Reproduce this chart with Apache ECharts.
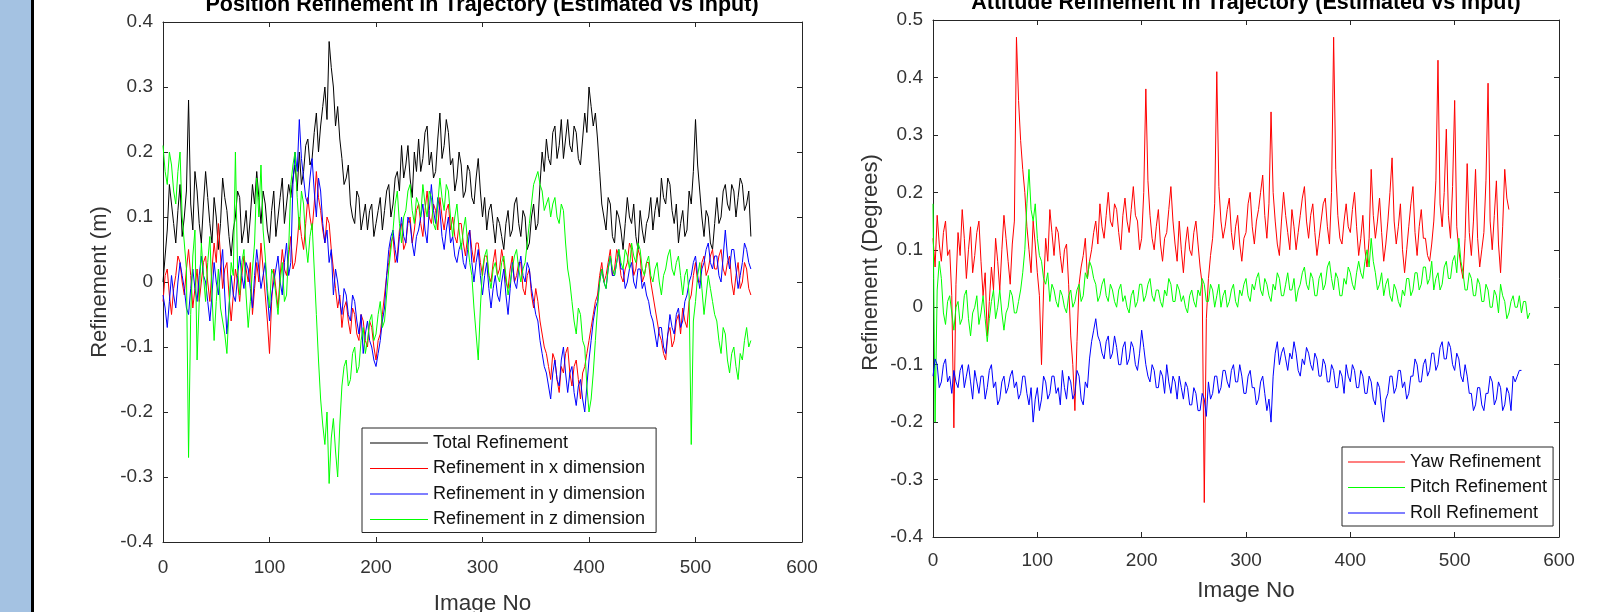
<!DOCTYPE html>
<html><head><meta charset="utf-8">
<script src="https://cdn.jsdelivr.net/npm/echarts@6/dist/echarts.min.js"></script>
<style>html,body{margin:0;padding:0;background:#fff}#c{width:1597px;height:612px}</style>
</head><body><div id="c"></div>
<script>
// ---------- DATA ----------
const posImageNo = [
0,2,4,6,8,10,12,14,16,18,20,22,24,26,28,30,32,34,36,38,
40,42,44,46,48,50,52,54,56,58,60,62,64,66,68,70,72,74,76,78,
80,82,84,86,88,90,92,94,96,98,100,102,104,106,108,110,112,114,116,118,
120,122,124,126,128,130,132,134,136,138,140,142,144,146,148,150,152,154,156,158,
160,162,164,166,168,170,172,174,176,178,180,182,184,186,188,190,192,194,196,198,
200,202,204,206,208,210,212,214,216,218,220,222,224,226,228,230,232,234,236,238,
240,242,244,246,248,250,252,254,256,258,260,262,264,266,268,270,272,274,276,278,
280,282,284,286,288,290,292,294,296,298,300,302,304,306,308,310,312,314,316,318,
320,322,324,326,328,330,332,334,336,338,340,342,344,346,348,350,352,354,356,358,
360,362,364,366,368,370,372,374,376,378,380,382,384,386,388,390,392,394,396,398,
400,402,404,406,408,410,412,414,416,418,420,422,424,426,428,430,432,434,436,438,
440,442,444,446,448,450,452,454,456,458,460,462,464,466,468,470,472,474,476,478,
480,482,484,486,488,490,492,494,496,498,500,502,504,506,508,510,512,514,516,518,
520,522,524,526,528,530,532,534,536,538,540,542,544,546,548,550,552];
const attImageNo = posImageNo.concat([554,556,558,560,562,564,566,568,570,572]);

const posTotal = [
0.00,0.04,0.08,0.15,0.12,0.09,0.06,0.11,0.15,0.07,0.10,0.14,0.28,0.12,0.08,0.17,0.14,0.09,0.06,0.12,
0.17,0.13,0.09,0.06,0.13,0.10,0.05,0.09,0.16,0.13,0.11,0.07,0.04,0.08,0.10,0.14,0.13,0.06,0.08,0.11,
0.06,0.10,0.15,0.12,0.17,0.13,0.09,0.14,0.12,0.08,0.06,0.11,0.14,0.07,0.10,0.13,0.16,0.09,0.12,0.15,
0.13,0.16,0.18,0.14,0.20,0.15,0.17,0.21,0.22,0.18,0.19,0.23,0.26,0.20,0.24,0.27,0.30,0.25,0.37,0.33,
0.30,0.24,0.27,0.22,0.19,0.15,0.16,0.18,0.12,0.10,0.09,0.14,0.13,0.08,0.10,0.12,0.08,0.11,0.12,0.07,
0.09,0.11,0.13,0.08,0.11,0.14,0.15,0.10,0.12,0.16,0.17,0.14,0.21,0.16,0.18,0.21,0.16,0.13,0.20,0.17,
0.22,0.17,0.19,0.23,0.24,0.18,0.20,0.16,0.17,0.22,0.26,0.19,0.21,0.25,0.23,0.18,0.19,0.14,0.16,0.20,
0.18,0.13,0.14,0.18,0.17,0.13,0.12,0.16,0.19,0.14,0.10,0.13,0.08,0.11,0.12,0.09,0.06,0.10,0.09,0.07,
0.05,0.09,0.11,0.07,0.08,0.12,0.13,0.09,0.07,0.11,0.10,0.05,0.06,0.10,0.12,0.08,0.09,0.15,0.20,0.17,
0.22,0.19,0.18,0.23,0.24,0.19,0.21,0.25,0.19,0.22,0.25,0.21,0.20,0.24,0.23,0.19,0.18,0.22,0.26,0.23,
0.30,0.27,0.24,0.26,0.22,0.17,0.12,0.10,0.08,0.13,0.12,0.07,0.06,0.11,0.10,0.08,0.05,0.09,0.13,0.10,
0.09,0.12,0.07,0.05,0.11,0.08,0.06,0.09,0.10,0.13,0.08,0.11,0.13,0.10,0.16,0.13,0.12,0.16,0.15,0.11,
0.09,0.12,0.06,0.09,0.11,0.07,0.08,0.14,0.12,0.17,0.25,0.18,0.14,0.10,0.07,0.11,0.10,0.06,0.05,0.09,
0.13,0.09,0.10,0.14,0.15,0.12,0.11,0.15,0.14,0.10,0.13,0.16,0.15,0.11,0.12,0.14,0.07];
const posX = [
-0.03,0.01,0.02,-0.02,-0.05,-0.01,0.01,0.04,0.03,0.00,-0.02,0.02,0.05,0.01,-0.04,-0.01,0.02,-0.03,0.00,0.03,
0.04,0.00,-0.03,0.02,0.06,0.03,0.09,0.04,-0.01,0.02,0.03,-0.02,-0.06,-0.02,0.02,0.00,-0.03,0.01,0.04,0.02,
0.00,0.03,-0.05,-0.01,0.03,0.00,0.06,0.02,-0.02,-0.06,-0.11,-0.03,0.02,-0.01,-0.04,0.01,0.05,0.02,0.01,0.04,
0.07,0.02,0.03,0.06,0.10,0.07,0.05,0.09,0.13,0.10,0.08,0.12,0.17,0.13,0.11,0.08,0.06,0.10,0.09,0.05,
0.02,-0.01,-0.04,-0.02,-0.07,-0.04,-0.03,-0.06,-0.08,-0.04,-0.05,-0.08,-0.09,-0.05,-0.06,-0.09,-0.10,-0.06,-0.07,-0.10,
-0.12,-0.09,-0.08,-0.05,-0.02,0.01,0.03,0.06,0.07,0.03,0.04,0.08,0.09,0.05,0.06,0.09,0.10,0.06,0.08,0.11,
0.12,0.09,0.07,0.11,0.14,0.10,0.09,0.12,0.11,0.08,0.13,0.10,0.08,0.11,0.12,0.08,0.10,0.07,0.06,0.09,
0.09,0.06,0.04,0.07,0.08,0.05,0.03,0.06,0.06,0.03,0.01,0.04,0.04,0.01,0.00,0.03,0.05,0.01,0.02,0.05,
0.03,0.00,-0.01,0.02,0.04,0.00,0.01,0.03,0.03,-0.01,-0.02,0.01,0.02,-0.02,-0.04,-0.01,-0.03,-0.06,-0.08,-0.10,
-0.11,-0.13,-0.15,-0.11,-0.12,-0.15,-0.17,-0.13,-0.14,-0.11,-0.10,-0.14,-0.16,-0.13,-0.12,-0.15,-0.18,-0.14,-0.13,-0.11,
-0.09,-0.07,-0.05,-0.03,-0.02,0.01,0.03,0.00,0.01,0.03,0.05,0.01,0.02,0.05,0.04,0.01,0.00,0.02,0.03,0.06,
0.05,0.01,0.02,0.05,0.04,0.00,0.01,0.03,0.03,0.00,-0.02,-0.04,-0.06,-0.08,-0.09,-0.11,-0.12,-0.08,-0.07,-0.10,
-0.09,-0.06,-0.05,-0.08,-0.04,-0.06,-0.07,-0.03,-0.02,0.01,0.03,0.00,0.00,0.03,0.04,0.01,0.02,0.04,0.05,0.02,
0.02,0.04,0.05,0.02,0.01,0.03,0.04,0.00,-0.02,0.01,0.03,-0.01,0.00,0.03,0.02,-0.01,-0.02];
const posY = [
-0.02,-0.04,-0.07,-0.03,0.01,-0.02,-0.04,0.00,0.03,0.01,-0.01,-0.04,-0.05,-0.01,0.02,-0.01,-0.03,0.01,0.04,0.01,
0.00,-0.03,-0.06,-0.02,0.03,0.00,-0.02,0.02,0.05,-0.02,-0.08,-0.04,0.01,-0.02,-0.03,0.01,0.04,0.01,-0.01,0.03,
0.02,-0.01,-0.04,0.01,0.05,0.02,-0.01,0.01,0.03,-0.02,-0.06,-0.02,0.00,0.02,0.04,0.00,-0.02,0.03,0.06,0.01,
0.03,0.15,0.20,0.17,0.25,0.19,0.16,0.13,0.12,0.16,0.19,0.14,0.10,0.16,0.14,0.09,0.06,0.08,0.03,0.05,
-0.02,0.02,0.00,-0.03,-0.05,-0.01,-0.02,-0.05,-0.06,-0.02,-0.03,-0.06,-0.08,-0.05,-0.11,-0.08,-0.06,-0.09,-0.10,-0.12,
-0.13,-0.11,-0.09,-0.06,-0.04,0.01,0.05,0.07,0.08,0.05,0.03,0.07,0.10,0.07,0.06,0.10,0.09,0.06,0.04,0.07,
0.08,0.10,0.12,0.08,0.06,0.11,0.15,0.11,0.09,0.13,0.11,0.07,0.05,0.08,0.10,0.06,0.07,0.04,0.03,0.05,
0.06,0.03,0.02,0.05,0.08,0.03,0.00,0.03,0.05,0.01,-0.02,0.01,0.03,-0.01,-0.04,-0.01,0.01,-0.02,-0.03,0.00,
0.02,-0.02,-0.05,-0.01,0.03,0.00,-0.01,0.02,0.04,0.01,0.00,0.03,0.02,-0.01,-0.03,-0.05,-0.06,-0.09,-0.11,-0.13,
-0.14,-0.16,-0.18,-0.14,-0.12,-0.15,-0.16,-0.12,-0.10,-0.14,-0.17,-0.14,-0.13,-0.17,-0.19,-0.16,-0.15,-0.18,-0.20,-0.16,
-0.12,-0.09,-0.06,-0.04,-0.03,0.00,0.02,0.00,-0.01,0.02,0.04,0.01,0.01,0.03,0.05,0.02,0.02,-0.01,0.00,0.02,
0.03,0.00,-0.01,0.02,0.02,-0.01,0.00,-0.02,-0.03,-0.05,-0.06,-0.08,-0.10,-0.07,-0.07,-0.10,-0.11,-0.08,-0.05,-0.07,
-0.08,-0.05,-0.04,-0.07,-0.06,-0.03,-0.02,0.00,0.01,0.03,0.04,0.01,-0.01,0.02,0.03,0.05,0.06,0.03,0.02,0.04,
0.04,0.01,0.00,0.04,0.08,0.04,0.02,0.05,0.05,0.02,-0.01,0.01,0.03,0.06,0.05,0.03,0.02];
const posZ = [
0.21,0.17,0.15,0.20,0.18,0.14,0.12,0.17,0.20,0.10,0.06,0.02,-0.27,-0.05,0.04,0.08,-0.12,-0.03,0.06,0.01,
-0.03,0.03,0.07,-0.02,-0.09,-0.03,0.02,-0.04,-0.06,-0.08,-0.11,-0.04,0.03,0.01,0.20,0.02,-0.02,0.03,0.05,-0.02,
-0.07,-0.03,0.02,0.06,0.16,0.10,0.18,0.08,0.04,-0.01,-0.04,0.02,0.01,-0.02,-0.05,0.00,0.03,-0.03,-0.02,0.05,
0.15,0.18,0.20,0.13,0.08,0.14,0.12,0.06,0.03,0.07,0.09,0.02,-0.05,-0.12,-0.18,-0.22,-0.25,-0.20,-0.31,-0.24,
-0.21,-0.26,-0.30,-0.22,-0.16,-0.13,-0.12,-0.16,-0.15,-0.11,-0.10,-0.14,-0.13,-0.09,-0.07,-0.11,-0.09,-0.06,-0.05,-0.09,
-0.08,-0.05,-0.03,-0.07,-0.06,-0.02,0.02,0.05,0.08,0.12,0.14,0.09,0.06,0.10,0.11,0.14,0.15,0.11,0.09,0.13,
0.12,0.10,0.15,0.12,0.10,0.14,0.13,0.09,0.08,0.12,0.16,0.13,0.11,0.15,0.14,0.10,0.07,0.10,0.12,0.08,
0.05,0.08,0.10,0.06,0.03,0.01,-0.04,-0.08,-0.12,-0.04,0.02,0.04,0.05,0.01,-0.01,0.02,0.03,0.01,0.00,0.03,
0.04,0.01,-0.02,0.00,0.02,0.04,0.05,0.02,0.00,0.02,0.03,0.06,0.09,0.12,0.15,0.16,0.17,0.15,0.14,0.11,
0.12,0.13,0.10,0.12,0.13,0.10,0.09,0.12,0.11,0.06,0.02,0.00,-0.03,-0.06,-0.08,-0.04,-0.05,-0.09,-0.10,-0.16,
-0.20,-0.18,-0.14,-0.09,-0.04,0.00,0.02,0.00,-0.01,0.02,0.04,0.02,0.01,0.03,0.05,0.03,0.02,0.05,0.04,0.02,
0.06,0.04,0.03,0.06,0.05,0.02,0.01,0.03,0.04,0.01,0.00,0.02,0.03,0.00,-0.02,0.01,0.02,0.04,0.05,0.02,
0.01,0.03,0.04,0.01,-0.02,0.01,0.02,-0.02,-0.25,-0.06,-0.03,0.01,0.03,-0.01,-0.05,-0.02,0.01,-0.01,-0.03,-0.05,
-0.06,-0.09,-0.11,-0.07,-0.08,-0.12,-0.14,-0.11,-0.10,-0.13,-0.15,-0.11,-0.12,-0.09,-0.07,-0.10,-0.09];

const attYaw = [
0.12,0.07,0.16,0.11,0.08,0.13,0.15,0.09,0.10,0.02,-0.21,0.04,0.13,0.09,0.17,0.12,0.05,0.10,0.14,0.06,
0.09,0.13,0.15,0.08,0.02,0.06,-0.05,0.01,0.07,0.03,0.12,0.08,0.03,0.10,0.16,0.12,0.08,0.04,0.11,0.15,
0.47,0.36,0.29,0.24,0.20,0.14,0.10,0.06,0.15,0.11,0.06,0.02,-0.10,0.03,0.12,0.08,0.17,0.13,0.09,0.14,
0.13,0.09,0.06,0.10,0.11,0.04,-0.05,-0.10,-0.18,-0.06,0.04,0.07,0.09,0.12,0.05,0.08,0.10,0.13,0.15,0.11,
0.18,0.14,0.12,0.16,0.20,0.15,0.14,0.18,0.17,0.13,0.10,0.16,0.19,0.15,0.13,0.17,0.21,0.16,0.15,0.10,
0.12,0.20,0.38,0.22,0.16,0.12,0.10,0.14,0.17,0.11,0.08,0.12,0.13,0.17,0.21,0.15,0.11,0.08,0.15,0.10,
0.06,0.11,0.14,0.10,0.09,0.13,0.15,0.11,0.07,0.04,-0.34,-0.02,0.05,0.09,0.12,0.18,0.41,0.21,0.15,0.12,
0.14,0.17,0.19,0.13,0.10,0.14,0.16,0.11,0.08,0.12,0.13,0.18,0.20,0.14,0.11,0.15,0.17,0.20,0.23,0.16,
0.12,0.18,0.34,0.20,0.15,0.11,0.09,0.15,0.20,0.16,0.13,0.10,0.17,0.14,0.10,0.13,0.16,0.19,0.21,0.15,
0.12,0.16,0.18,0.13,0.09,0.12,0.15,0.18,0.19,0.14,0.11,0.20,0.47,0.24,0.16,0.12,0.11,0.15,0.18,0.14,
0.13,0.17,0.20,0.14,0.09,0.12,0.16,0.10,0.07,0.12,0.24,0.16,0.12,0.15,0.19,0.13,0.08,0.11,0.15,0.20,
0.26,0.15,0.11,0.14,0.18,0.10,0.06,0.10,0.14,0.18,0.21,0.13,0.09,0.14,0.17,0.12,0.12,0.09,0.08,0.11,
0.15,0.22,0.43,0.18,0.14,0.20,0.31,0.16,0.12,0.21,0.36,0.14,0.10,0.07,0.05,0.12,0.25,0.13,0.09,0.15,
0.24,0.12,0.07,0.10,0.13,0.22,0.39,0.15,0.10,0.16,0.22,0.11,0.06,0.14,0.24,0.19,0.17];
const attPitch = [
0.18,-0.20,0.03,0.08,0.05,-0.01,-0.03,0.01,0.02,-0.01,-0.04,0.00,0.01,-0.03,-0.02,0.02,0.03,-0.02,-0.05,-0.01,
0.00,0.02,-0.03,-0.01,0.02,-0.02,-0.06,-0.02,0.01,0.03,-0.02,0.00,0.03,-0.01,-0.04,-0.01,0.00,0.03,0.02,-0.01,
-0.01,0.01,0.03,0.06,0.10,0.18,0.24,0.17,0.15,0.18,0.12,0.09,0.08,0.05,0.04,0.06,0.01,0.04,0.03,0.01,
0.00,0.03,0.02,0.00,-0.01,0.02,0.03,0.00,0.01,0.03,0.04,0.01,0.02,0.06,0.05,0.08,0.07,0.05,0.04,0.01,
0.02,0.04,0.05,0.02,0.01,0.04,0.03,0.01,0.00,0.03,0.04,0.01,0.02,0.00,-0.01,0.02,0.03,0.00,0.01,0.04,
0.04,0.01,0.02,0.04,0.05,0.02,0.01,0.03,0.03,0.01,0.00,0.03,0.02,0.05,0.04,0.01,0.01,0.04,0.03,0.01,
0.02,0.00,-0.01,0.02,0.03,0.01,0.00,0.03,0.02,0.05,0.04,0.01,0.01,0.04,0.03,0.00,0.02,0.04,0.00,0.02,
0.03,0.00,0.01,0.03,0.04,0.01,0.00,0.03,0.02,0.04,0.05,0.02,0.01,0.04,0.03,0.05,0.06,0.03,0.02,0.05,
0.04,0.02,0.01,0.04,0.03,0.06,0.05,0.02,0.02,0.04,0.06,0.03,0.03,0.05,0.01,0.03,0.04,0.06,0.07,0.04,
0.03,0.06,0.05,0.02,0.02,0.05,0.06,0.03,0.04,0.07,0.08,0.05,0.03,0.06,0.05,0.02,0.02,0.05,0.04,0.07,
0.06,0.04,0.03,0.06,0.08,0.06,0.05,0.08,0.10,0.07,0.12,0.08,0.06,0.03,0.04,0.06,0.02,0.04,0.05,0.02,
0.01,0.04,0.03,0.01,0.00,0.03,0.02,0.05,0.05,0.02,0.03,0.06,0.06,0.03,0.04,0.07,0.07,0.04,0.05,0.08,
0.03,0.05,0.06,0.03,0.04,0.07,0.08,0.05,0.05,0.08,0.09,0.06,0.12,0.08,0.06,0.03,0.03,0.06,0.05,0.02,
0.02,0.05,0.04,0.01,0.01,0.04,0.03,0.00,0.00,0.03,0.02,-0.01,0.04,0.02,0.01,-0.02,-0.01,0.01,0.02,0.00,
0.00,0.02,-0.01,0.01,0.01,-0.02,-0.01];
const attRoll = [
-0.12,-0.09,-0.10,-0.14,-0.13,-0.10,-0.09,-0.13,-0.12,-0.15,-0.11,-0.13,-0.14,-0.11,-0.10,-0.14,-0.12,-0.10,-0.13,-0.16,
-0.11,-0.13,-0.15,-0.12,-0.12,-0.16,-0.14,-0.11,-0.10,-0.14,-0.13,-0.17,-0.16,-0.13,-0.12,-0.15,-0.14,-0.12,-0.11,-0.14,
-0.13,-0.16,-0.15,-0.12,-0.12,-0.15,-0.17,-0.14,-0.20,-0.16,-0.14,-0.18,-0.16,-0.12,-0.13,-0.16,-0.15,-0.12,-0.12,-0.15,
-0.14,-0.17,-0.11,-0.14,-0.16,-0.12,-0.13,-0.16,-0.15,-0.11,-0.12,-0.16,-0.17,-0.13,-0.14,-0.09,-0.06,-0.04,-0.02,-0.05,
-0.06,-0.08,-0.09,-0.06,-0.05,-0.09,-0.08,-0.05,-0.07,-0.10,-0.10,-0.07,-0.06,-0.10,-0.09,-0.06,-0.07,-0.10,-0.11,-0.08,
-0.04,-0.07,-0.10,-0.12,-0.13,-0.10,-0.11,-0.14,-0.14,-0.11,-0.12,-0.15,-0.10,-0.13,-0.15,-0.12,-0.13,-0.16,-0.12,-0.14,
-0.16,-0.13,-0.14,-0.17,-0.17,-0.14,-0.15,-0.18,-0.18,-0.15,-0.16,-0.19,-0.13,-0.16,-0.15,-0.12,-0.12,-0.15,-0.14,-0.11,
-0.11,-0.13,-0.14,-0.11,-0.10,-0.13,-0.13,-0.10,-0.12,-0.15,-0.15,-0.12,-0.11,-0.14,-0.14,-0.17,-0.16,-0.13,-0.12,-0.15,
-0.18,-0.16,-0.20,-0.12,-0.08,-0.06,-0.10,-0.08,-0.07,-0.09,-0.11,-0.08,-0.09,-0.06,-0.08,-0.11,-0.12,-0.09,-0.10,-0.07,
-0.08,-0.10,-0.11,-0.08,-0.09,-0.12,-0.12,-0.09,-0.10,-0.13,-0.13,-0.10,-0.11,-0.14,-0.14,-0.11,-0.12,-0.15,-0.10,-0.12,
-0.13,-0.10,-0.11,-0.14,-0.14,-0.11,-0.12,-0.15,-0.15,-0.12,-0.13,-0.16,-0.17,-0.13,-0.14,-0.18,-0.20,-0.16,-0.15,-0.12,
-0.12,-0.15,-0.14,-0.11,-0.11,-0.14,-0.13,-0.16,-0.15,-0.12,-0.12,-0.09,-0.10,-0.13,-0.13,-0.10,-0.09,-0.12,-0.11,-0.08,
-0.08,-0.11,-0.10,-0.07,-0.06,-0.09,-0.09,-0.06,-0.07,-0.10,-0.11,-0.08,-0.09,-0.12,-0.13,-0.10,-0.12,-0.15,-0.15,-0.18,
-0.17,-0.14,-0.14,-0.17,-0.18,-0.15,-0.15,-0.12,-0.13,-0.17,-0.16,-0.13,-0.14,-0.18,-0.17,-0.14,-0.15,-0.18,-0.12,-0.13,
-0.12,-0.11,-0.11];

const posTitle = 'Position Refinement in Trajectory (Estimated vs Input)';
const attTitle = 'Attitude Refinement in Trajectory (Estimated vs Input)';
const posNames = ['Total Refinement','Refinement in x dimension','Refinement in y dimension','Refinement in z dimension'];
const attNames = ['Yaw Refinement','Pitch Refinement','Roll Refinement'];
const xTicks = {min:0, max:600, interval:100};
const posYTicks = {min:-0.4, max:0.4, interval:0.1};
const attYTicks = {min:-0.4, max:0.5, interval:0.1};

// ---------- CHART ----------
const FONT = "'Liberation Sans', Arial, Helvetica, sans-serif";
const AX = '#262626';
const TXT = '#333333';
function pairs(xs, ys){ return ys.map((v,i)=>[xs[i], v]); }
function fmt(v){ return String(+v.toFixed(1)); }

function xAxes(grid, gap, margin){
  return [
    {type:'value', gridIndex:grid, position:'bottom', min:xTicks.min, max:xTicks.max, interval:xTicks.interval,
     axisLine:{show:true, onZero:false, lineStyle:{color:AX, width:1}},
     axisTick:{show:true, inside:true, length:5, lineStyle:{color:AX}},
     axisLabel:{color:TXT, fontSize:19, fontFamily:FONT, margin:margin},
     splitLine:{show:false},
     name:'Image No', nameLocation:'middle', nameGap:gap,
     nameTextStyle:{color:TXT, fontSize:22.5, fontFamily:FONT}},
    {type:'value', gridIndex:grid, position:'top', min:xTicks.min, max:xTicks.max, interval:xTicks.interval,
     axisLine:{show:true, onZero:false, lineStyle:{color:AX, width:1}},
     axisTick:{show:true, inside:true, length:5, lineStyle:{color:AX}},
     axisLabel:{show:false}, splitLine:{show:false}}
  ];
}
function yAxes(grid, t, name, gap, pad){
  return [
    {type:'value', gridIndex:grid, position:'left', min:t.min, max:t.max, interval:t.interval,
     axisLine:{show:true, onZero:false, lineStyle:{color:AX, width:1}},
     axisTick:{show:true, inside:true, length:5, lineStyle:{color:AX}},
     axisLabel:{color:TXT, fontSize:19, fontFamily:FONT, margin:10, formatter:fmt},
     splitLine:{show:false},
     name:name, nameLocation:'middle', nameGap:gap,
     nameTextStyle:{color:TXT, fontSize:22, fontFamily:FONT, padding:pad}},
    {type:'value', gridIndex:grid, position:'right', min:t.min, max:t.max, interval:t.interval,
     axisLine:{show:true, onZero:false, lineStyle:{color:AX, width:1}},
     axisTick:{show:true, inside:true, length:5, lineStyle:{color:AX}},
     axisLabel:{show:false}, splitLine:{show:false}}
  ];
}
function line(name, data, color, xi, yi){
  return {type:'line', name:name, data:data, xAxisIndex:xi, yAxisIndex:yi,
    symbol:'none', showSymbol:false, lineStyle:{color:color, width:1}, itemStyle:{color:color},
    animation:false, silent:true};
}

const chart = echarts.init(document.getElementById('c'), null, {renderer:'canvas'});
chart.setOption({
  backgroundColor:'#ffffff',
  animation:false,
  textStyle:{fontFamily:FONT},
  grid:[
    {left:163, top:22, width:639, height:520, outerBoundsMode:'none', containLabel:false},
    {left:933, top:20, width:626, height:517, outerBoundsMode:'none', containLabel:false}
  ],
  xAxis:[...xAxes(0,50,16), ...xAxes(1,42,14)],
  yAxis:[...yAxes(0,posYTicks,'Refinement (m)',52,0), ...yAxes(1,attYTicks,'Refinement (Degrees)',51,[0,0,0,32])],
  legend:[
    {data:posNames, orient:'vertical', left:362, top:428, padding:[6,11,4,8], itemGap:7.5,
     icon:'rect', itemWidth:58, itemHeight:1.2, backgroundColor:'#fff', borderColor:AX, borderWidth:1,
     textStyle:{color:'#111', fontSize:18, fontFamily:FONT}},
    {data:attNames, orient:'vertical', left:1342, top:447, padding:[6,6,4,6], itemGap:7.5,
     icon:'rect', itemWidth:57, itemHeight:1.2, backgroundColor:'#fff', borderColor:AX, borderWidth:1,
     textStyle:{color:'#111', fontSize:18, fontFamily:FONT}}
  ],
  graphic:[
    {type:'rect', shape:{x:0, y:0, width:31, height:612}, style:{fill:'#a4c2e2'}, silent:true},
    {type:'rect', shape:{x:31, y:0, width:3, height:612}, style:{fill:'#000'}, silent:true},
    {type:'text', x:482, y:5, style:{text:posTitle, fill:'#000', font:"bold 21.5px 'Liberation Sans', Arial, sans-serif", textAlign:'center', textVerticalAlign:'middle'}, silent:true},
    {type:'text', x:1246, y:3, style:{text:attTitle, fill:'#000', font:"bold 21.5px 'Liberation Sans', Arial, sans-serif", textAlign:'center', textVerticalAlign:'middle'}, silent:true}
  ],
  series:[
    line(posNames[0], pairs(posImageNo,posTotal), '#000000', 0, 0),
    line(posNames[1], pairs(posImageNo,posX), '#ff0000', 0, 0),
    line(posNames[2], pairs(posImageNo,posY), '#0000ff', 0, 0),
    line(posNames[3], pairs(posImageNo,posZ), '#00ff00', 0, 0),
    line(attNames[0], pairs(attImageNo,attYaw), '#ff0000', 2, 2),
    line(attNames[1], pairs(attImageNo,attPitch), '#00ff00', 2, 2),
    line(attNames[2], pairs(attImageNo,attRoll), '#0000ff', 2, 2)
  ]
});
</script></body></html>
